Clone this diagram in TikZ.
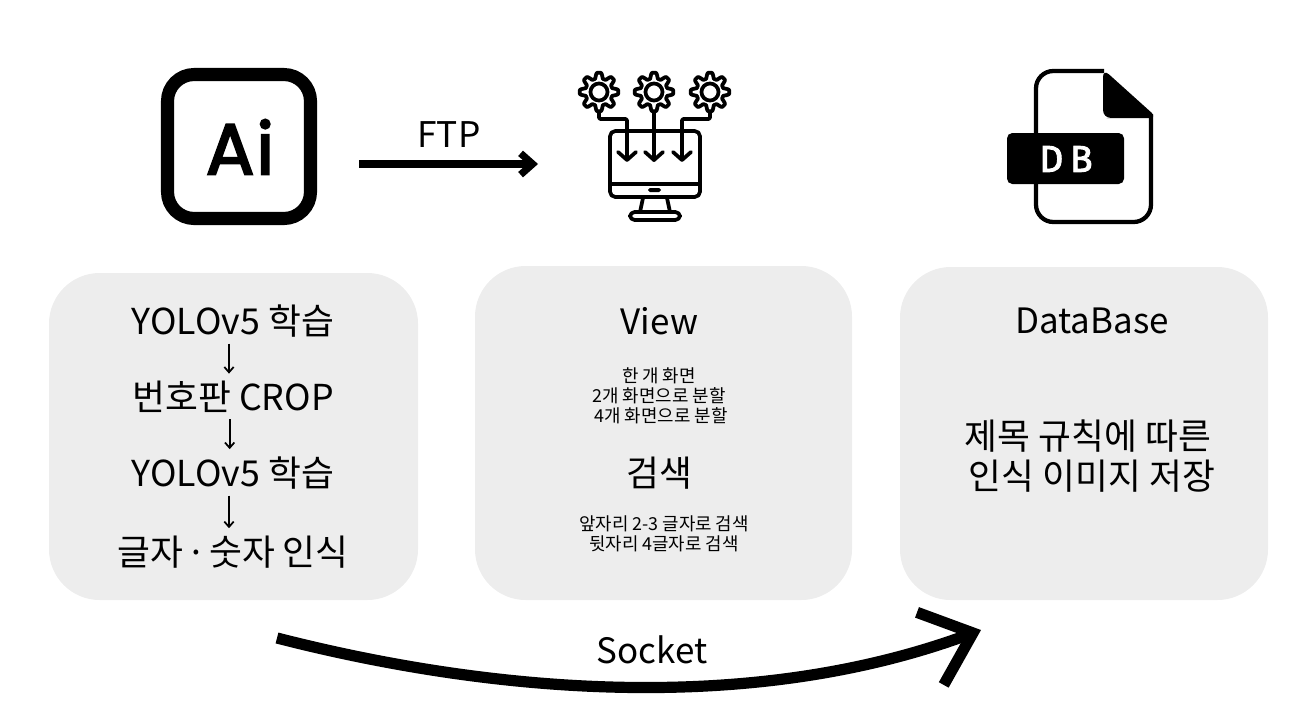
\documentclass[tikz,border=0pt]{standalone}
\usepackage{fontspec}
\usepackage{xcolor}
\setmainfont{Noto Sans CJK KR}
\newfontfamily\iconfont[FakeBold=3]{Poppins}
\newfontfamily\dbfont[FakeBold=2.5]{Fira Sans}
\usetikzlibrary{arrows.meta, positioning, calc}
\definecolor{panelgray}{HTML}{EDEDED}

\tikzset{
    panel/.style={fill=panelgray, rounded corners=38pt},
    bigtext/.style={font=\fontsize{26.8}{33}\selectfont, inner sep=0pt},
    latintext/.style={font=\fontsize{26.2}{33}\selectfont, inner sep=0pt},
    midtext/.style={font=\fontsize{26.5}{31}\selectfont, inner sep=0pt},
    smalltext/.style={font=\fontsize{13.4}{15.2}\selectfont, align=center, inner sep=0pt},
    icon/.style={line width=2.8pt, line join=round, line cap=round},
    flowarrow/.style={-{Straight Barb[length=4pt, width=7pt]}, line width=1.3pt, shorten <=4.5pt, shorten >=5.5pt},
}

\begin{document}
\begin{tikzpicture}[x=0.75pt, y=-0.75pt]
    \useasboundingbox (0, 0) rectangle (1293, 725);

    % panels
    \fill[panel] (49, 273) rectangle (418, 600);
    \fill[panel] (475, 266) rectangle (852, 600);
    \fill[panel] (900, 267) rectangle (1268, 600);

    % Ai icon
    \draw[line width=9.8pt, rounded corners=20pt] (167.5, 74.5) rectangle (310.5, 218.5);
    \node[font=\iconfont\fontsize{54}{60}\selectfont, inner sep=0pt] (aiicon) at (240, 147) {A\hspace{1.5pt}i};

    % monitor icon
    \foreach \cx in {599, 654, 710} {
        \draw[icon] plot[samples=128, domain=0:357.2] ({\cx + (16.5 + 2.8*max(-1, min(1, 1.7*cos(8*\x))))*cos(\x)}, {92 + (16.5 + 2.8*max(-1, min(1, 1.7*cos(8*\x))))*sin(\x)}) -- cycle;
        \draw[icon] (\cx, 92) circle (6.4pt);
    }
    \draw[icon, rounded corners=1pt] (599, 112) -- (599, 119) -- (627, 119) -- (627, 160);
    \draw[icon] (654, 112) -- (654, 160);
    \draw[icon, rounded corners=1pt] (710, 112) -- (710, 119) -- (682, 119) -- (682, 160);
    \foreach \ax in {627, 654, 682} {
        \draw[icon] (\ax - 9, 152) -- (\ax, 160) -- (\ax + 9, 152);
    }
    \draw[icon, rounded corners=4pt] (610, 131) rectangle (700, 197);
    \draw[icon] (610, 184) -- (700, 184);
    \fill[rounded corners=1.4pt] (648, 188) rectangle (661, 192);
    \draw[icon] (643, 198) -- (640, 212);
    \draw[icon] (667, 198) -- (670, 212);
    \draw[icon, rounded corners=3.5pt] (630, 212) rectangle (680, 220);

    % DB icon
    \draw[line width=3.2pt, rounded corners=13pt] (1104, 71) -- (1036, 71) -- (1036, 222) -- (1151, 222) -- (1151, 114);
    \fill[rounded corners=1pt] (1103, 69) -- (1153, 114) -- (1153, 118) -- (1116, 118) -- (1108, 118) [rounded corners=6pt] -- (1103, 118) -- cycle;
    \fill[rounded corners=4pt] (1007, 133) rectangle (1124, 184);
    \node[font=\dbfont\fontsize{28}{30}\selectfont, text=white, inner sep=0pt] (dblabel) at (1066, 159) {D\hspace{5pt}B};

    % FTP arrow
    \coordinate (ftpstart) at (359, 164);
    \coordinate (ftpend) at (538, 164);
    \draw[-{Straight Barb[length=9pt, width=16pt]}, line width=5.4pt] (ftpstart) -- (ftpend);
    \node[midtext] (ftplabel) at (449, 135) {FTP};

    % left panel
    \node[bigtext] (yoloa) at (233, 321) {YOLOv5 학습};
    \node[bigtext] (crop) at (233, 397) {번호판 CROP};
    \node[bigtext] (yolob) at (233, 473) {YOLOv5 학습};
    \node[bigtext] (ocr) at (233, 552) {글자\hspace{-3.75pt} · \hspace{-3.75pt}숫자 인식};
    \draw[flowarrow] ([xshift=-3pt]yoloa.south) -- ([xshift=-3pt]crop.north);
    \draw[flowarrow] ([xshift=-2.5pt]crop.south) -- ([xshift=-2.5pt]yolob.north);
    \draw[flowarrow] ([xshift=-3pt]yolob.south) -- ([xshift=-3pt]ocr.north);

    % middle panel
    \node[latintext] (viewtitle) at (659.5, 321) {View};
    \node[smalltext] (viewmodes) at (659, 396) {한 개 화면\\2개 화면으로 분할\\\hspace{3pt}4개 화면으로 분할};
    \node[bigtext] (searchtitle) at (659, 473) {검색};
    \node[smalltext] (searchmodes) at (664, 534) {앞자리 2-3 글자로 검색\\뒷자리 4글자로 검색};

    % right panel
    \node[latintext] (dbtitle) at (1092, 321) {DataBase};
    \node[bigtext] (dbrulea) at (1088, 436) {제목 규칙에 따른};
    \node[bigtext] (dbruleb) at (1092, 476) {인식 이미지 저장};

    % Socket arrow
    \coordinate (socketstart) at (277, 638);
    \coordinate (socketend) at (981, 630);
    \draw[-{Straight Barb[length=34pt, width=58pt]}, line width=8.4pt] (socketstart) .. controls (480, 690) and (742, 718) .. (socketend);
    \node[latintext] (socketlabel) at (652, 650) {Socket};
\end{tikzpicture}
\end{document}
